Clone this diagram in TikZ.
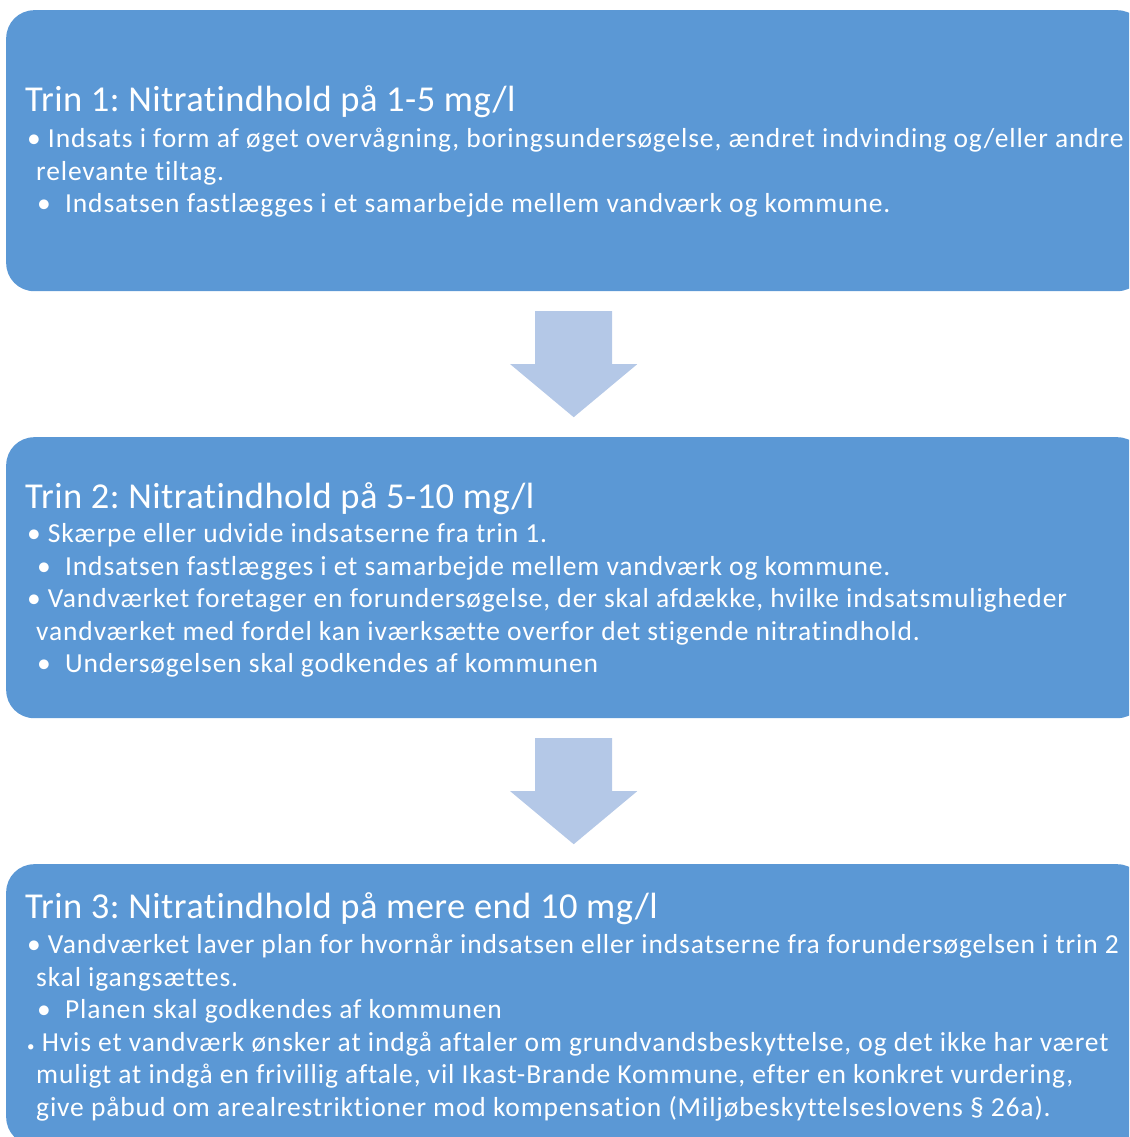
\documentclass[tikz,border=0pt]{standalone}
\usepackage{fontspec}
\setmainfont[Ligatures=NoCommon, RawFeature={-liga}]{Carlito}
\newfontfamily\overskriftfont[Ligatures=NoCommon, RawFeature={-liga}, LetterSpace=1.2]{Carlito}
\newfontfamily\punktfont[Ligatures=NoCommon, RawFeature={-liga}, LetterSpace=3.2]{Carlito}
\usetikzlibrary{calc}
\definecolor{trinblue}{RGB}{91,152,213}
\definecolor{pilblue}{RGB}{180,200,231}
\frenchspacing

\begin{document}
\begin{tikzpicture}[x=1pt, y=-1pt,
    trin/.style={fill=trinblue, rounded corners=28pt, minimum width=1139pt, minimum height=281pt, anchor=north west, inner sep=0pt},
    pil/.style={fill=pilblue},
    overskrift/.style={anchor=base west, inner sep=0pt, text=white, font=\overskriftfont\fontsize{36.5}{43}\selectfont},
    punkt/.style={anchor=base west, inner sep=0pt, text=white, font=\punktfont\fontsize{27.5}{32}\selectfont}]
    \useasboundingbox (0,0) rectangle (1129,1137);
    \clip (0,0) rectangle (1129,1137);
    \pgfmathsetmacro{\afstand}{427};
    \foreach \k in {1,2,3}
        \node [trin] (trin\k) at (6, {10+(\k-1)*\afstand}) {};
    % pile mellem trinene
    \foreach \a/\b in {trin1/trin2, trin2/trin3} {
        \coordinate (m) at ($(\a.south)!0.5!(\b.north)$);
        \fill [pil] ([shift={(-40.5pt,53pt)}]m) -- ([shift={(36.5pt,53pt)}]m) -- ([shift={(36.5pt,0pt)}]m)
            -- ([shift={(61.5pt,0pt)}]m) -- ([shift={(-2pt,-53pt)}]m) -- ([shift={(-65.5pt,0pt)}]m)
            -- ([shift={(-40.5pt,0pt)}]m) -- cycle;
    }
    % trin 1
    \node [overskrift] (t1) at (25, 112) {Trin 1: Nitratindhold på 1-5 mg/l};
    \node [punkt] (t1a) at (27, 147) {• Indsats i form af øget overvågning, boringsundersøgelse, ændret indvinding og/eller andre};
    \node [punkt] (t1b) at (36, 180) {relevante tiltag.};
    \node [punkt] (t1c) at (37, 212) {•\ \ Indsatsen fastlægges i et samarbejde mellem vandværk og kommune.};
    % trin 2
    \node [overskrift] (t2) at (25, 508) {Trin 2: Nitratindhold på 5-10 mg/l};
    \node [punkt] (t2a) at (27, 542) {• Skærpe eller udvide indsatserne fra trin 1.};
    \node [punkt] (t2b) at (37, 575) {•\ \ Indsatsen fastlægges i et samarbejde mellem vandværk og kommune.};
    \node [punkt] (t2c) at (27, 607) {• Vandværket foretager en forundersøgelse, der skal afdække, hvilke indsatsmuligheder};
    \node [punkt] (t2d) at (36, 640) {vandværket med fordel kan iværksætte overfor det stigende nitratindhold.};
    \node [punkt] (t2e) at (37, 672) {•\ \ Undersøgelsen skal godkendes af kommunen};
    % trin 3
    \node [overskrift] (t3) at (25, 918) {Trin 3: Nitratindhold på mere end 10 mg/l};
    \node [punkt] (t3a) at (27, 953) {• Vandværket laver plan for hvornår indsatsen eller indsatserne fra forundersøgelsen i trin 2};
    \node [punkt] (t3b) at (36, 986) {skal igangsættes.};
    \node [punkt] (t3c) at (37, 1018) {•\ \ Planen skal godkendes af kommunen};
    \node [punkt] (t3d) at (27, 1051) {{\fontsize{15}{15}\selectfont •} Hvis et vandværk ønsker at indgå aftaler om grundvandsbeskyttelse, og det ikke har været};
    \node [punkt] (t3e) at (36, 1083) {muligt at indgå en frivillig aftale, vil Ikast-Brande Kommune, efter en konkret vurdering,};
    \node [punkt] (t3f) at (36, 1116) {give påbud om arealrestriktioner mod kompensation (Miljøbeskyttelseslovens § 26a).};
\end{tikzpicture}
\end{document}
